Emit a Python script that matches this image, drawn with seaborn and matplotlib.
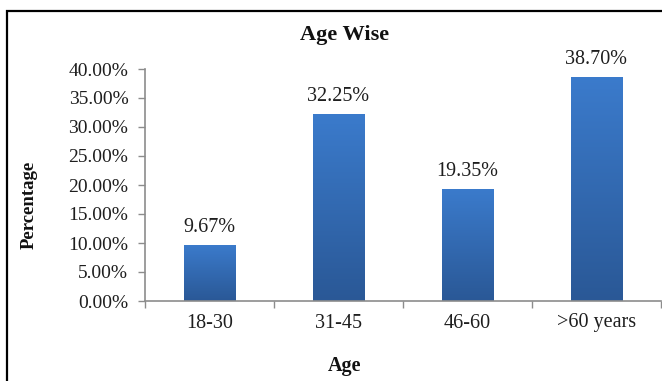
import numpy as np
import pandas as pd
import matplotlib
matplotlib.use("Agg")
import matplotlib.pyplot as plt
import seaborn as sns
from matplotlib.colors import LinearSegmentedColormap
from matplotlib.patches import Rectangle
from matplotlib.ticker import FixedLocator, PercentFormatter

age_groups = ["18-30", "31-45", "46-60", ">60 years"]
percentages = [9.67, 32.25, 19.35, 38.70]
value_labels = ["9.67%", "32.25%", "19.35%", "38.70%"]

sns.set_theme(style="white")
plt.rcParams["font.family"] = ["Liberation Serif", "DejaVu Serif"]

df = pd.DataFrame({"Age": age_groups, "Percentage": percentages})

fig = plt.figure(figsize=(6.62, 3.81), dpi=100)
ax = fig.add_axes([145 / 662, 1 - 301 / 381, (661 - 145) / 662, (301 - 69) / 381])

sns.barplot(data=df, x="Age", y="Percentage", color="#3470bd", width=0.4,
            saturation=1, ax=ax)

# vertical blue gradient inside each bar
grad = LinearSegmentedColormap.from_list("bar", ["#2a5896", "#3b7bcc"])
gimg = np.linspace(0, 1, 256).reshape(-1, 1)
for bar in ax.patches:
    x0, y0 = bar.get_x(), bar.get_y()
    w, h = bar.get_width(), bar.get_height()
    bar.set_facecolor("none")
    bar.set_edgecolor("none")
    im = ax.imshow(gimg, cmap=grad, aspect="auto", origin="lower",
                   extent=[x0, x0 + w, y0, y0 + h], zorder=2)
    im.set_clip_path(bar)

ax.set_xlim(-0.5, 3.5)
ax.set_ylim(0, 40)
ax.set_yticks(np.arange(0, 40.01, 5))
ax.yaxis.set_major_formatter(PercentFormatter(decimals=2))

for i, (v, lab) in enumerate(zip(percentages, value_labels)):
    ax.annotate(lab, (i, v), xytext=(0, 12.5), textcoords="offset points",
                ha="center", va="center", fontsize=14.5, color="#1e1e1e",
                annotation_clip=False)

ax.set_xlabel("")
ax.set_ylabel("")
fig.text(345 / 662, 1 - 35 / 381, "Age Wise", ha="center", va="center",
         fontsize=16, fontweight="bold", color="#111111")
fig.text(345 / 662, 1 - 366 / 381, "Age", ha="center", va="center",
         fontsize=14.5, fontweight="bold", color="#111111")
fig.text(29 / 662, 1 - 205 / 381, "Percentage", ha="center", va="center",
         rotation=90, fontsize=13.5, fontweight="bold", color="#111111")

for s in ["top", "right"]:
    ax.spines[s].set_visible(False)
for s in ["left", "bottom"]:
    ax.spines[s].set_color("#8c8c8c")
    ax.spines[s].set_linewidth(1.2)

ax.tick_params(axis="y", which="major", left=True, length=5, width=1,
               color="#8c8c8c", pad=7, labelsize=14, labelcolor="#1e1e1e")
ax.tick_params(axis="x", which="major", bottom=False, length=0, pad=9,
               labelsize=14.5, labelcolor="#1e1e1e")
ax.xaxis.set_minor_locator(FixedLocator([-0.5, 0.5, 1.5, 2.5, 3.5]))
ax.tick_params(axis="x", which="minor", bottom=True, length=5, width=1,
               color="#8c8c8c")

# outer frame around the chart
fig.patches.append(Rectangle((7 / 662, -0.05), 1.0, 1 - 11 / 381 + 0.05,
                             transform=fig.transFigure, fill=False,
                             edgecolor="black", linewidth=1.6))

fig.savefig("out.png", dpi=100)
